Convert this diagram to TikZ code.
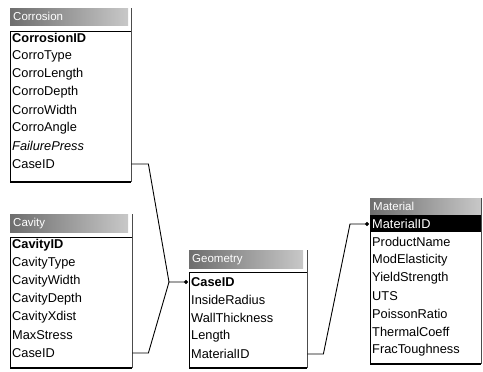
\documentclass[tikz,border=0pt]{standalone}
\usepackage{fontspec}
\setmainfont{Liberation Sans}
\usetikzlibrary{arrows.meta, positioning}
\definecolor{tDark}{HTML}{6E6E6E}
\definecolor{tLight}{HTML}{C8C8C8}

\begin{document}
\begin{tikzpicture}[x=1pt, y=-1pt,
      row/.style={anchor=west, inner xsep=2pt, inner ysep=0pt, minimum height=18pt,
        align=left, font=\fontsize{12.8}{14}\selectfont},
      ttl/.style={anchor=north west, inner xsep=3pt, inner ysep=0pt, align=left,
        text=white, left color=tDark, right color=tLight, font=\fontsize{11.5}{13}\selectfont},
      link/.style={line width=0.9pt, -{Circle[length=4pt]}, shorten >=1pt}]
    \useasboundingbox (0,0) rectangle (483,372);
    % title bars
    \node[ttl, text width=112pt, minimum height=17pt] (corr) at (10,8) {Corrosion};
    \node[ttl, text width=112pt, minimum height=18pt] (cav) at (10,214) {Cavity};
    \node[ttl, text width=108pt, minimum height=18pt] (geom) at (189,250) {Geometry};
    \node[ttl, text width=105pt, minimum height=16pt] (mat) at (370,198) {Material};
    % left / right / underline / bottom of each table
    \foreach \l/\r/\t/\u/\b in {10/131/8/31/182, 10/132/214/237/368,
        189/307/250/272/368, 370/481/198/215/364} {
      \draw[black!70] (\r,\t) -- (\r,\b);
      \draw[line width=0.9pt] (\l,\u) -- (\l,\b);
      \draw[line width=1pt] (\l,\u) -- (\r,\u);
      \draw[line width=1.3pt] (\l,\b) -- (\r,\b);
    }
    \fill (370,216) rectangle (481,232);
    % fields
    \foreach \fld [count=\i] in {\textbf{CorrosionID}, CorroType, CorroLength, CorroDepth,
        CorroWidth, CorroAngle, \textit{FailurePress}, CaseID}
      \node[row, text width=117pt] (corr-\i) at (10,20+18*\i) {\fld};
    \foreach \fld [count=\i] in {\textbf{CavityID}, CavityType, CavityWidth, CavityDepth,
        CavityXdist, MaxStress, CaseID}
      \node[row, text width=118pt] (cav-\i) at (10,227+18*\i) {\fld};
    \foreach \fld [count=\i] in {\textbf{CaseID}, InsideRadius, WallThickness, Length, MaterialID}
      \node[row, text width=114pt] (geom-\i) at (189,264+18*\i) {\fld};
    \foreach \fld [count=\i] in {\textcolor{white}{MaterialID}, ProductName, ModElasticity,
        YieldStrength, UTS, PoissonRatio, ThermalCoeff, FracToughness}
      \node[row, text width=107pt] (mat-\i) at (370,206+18*\i) {\fld};
    % links
    \coordinate (fk1) at (169,282);
    \coordinate (fk2) at (350,224);
    \draw[link] (corr-8.east) -- ++(17,0) -- (fk1) -- (geom-1.west);
    \draw[line width=0.9pt] (cav-7.east) -- ++(16,0) -- (fk1);
    \draw[link] (geom-5.east) -- ++(16,0) -- (fk2) -- (mat-1.west);
  \end{tikzpicture}
\end{document}
